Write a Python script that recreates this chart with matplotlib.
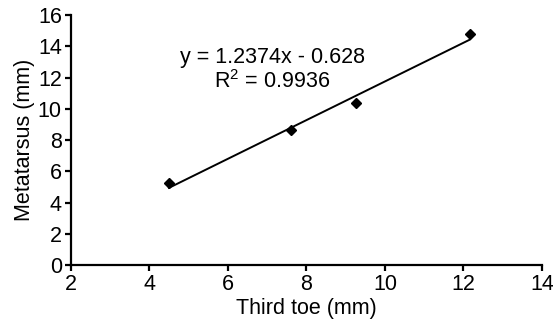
import matplotlib
matplotlib.use("Agg")
import matplotlib.pyplot as plt
import numpy as np

plt.rcParams['font.family'] = ['Liberation Sans', 'DejaVu Sans']
plt.rcParams['mathtext.fontset'] = 'custom'
plt.rcParams['mathtext.rm'] = 'Liberation Sans'
plt.rcParams['mathtext.it'] = 'Liberation Sans'

third_toe = [4.5, 7.62, 9.26, 12.16]
metatarsus = [5.25, 8.64, 10.4, 14.78]
slope = 1.2374
intercept = -0.628
x_ticks = [2, 4, 6, 8, 10, 12, 14]
y_ticks = [0, 2, 4, 6, 8, 10, 12, 14, 16]

FS = 15.5

fig = plt.figure(figsize=(5.53, 3.33), dpi=100)
ax = fig.add_axes([0.128, 0.204, 0.852, 0.751])

xs = np.array([min(third_toe), max(third_toe)])
ax.plot(xs, slope * xs + intercept, color='black', lw=1.4)
ax.plot(third_toe, metatarsus, linestyle='none', marker='D', ms=5.5,
        color='black', mec='black')

ax.set_xlim(2, 14)
ax.set_ylim(0, 16)
ax.set_xticks(x_ticks)
ax.set_yticks(y_ticks)
for s in ['top', 'right']:
    ax.spines[s].set_visible(False)
for s in ['left', 'bottom']:
    ax.spines[s].set_linewidth(1.6)
ax.tick_params(direction='out', length=4.5, width=1.6, labelsize=FS, pad=2)
ax.set_xlabel('Third toe (mm)', fontsize=FS, labelpad=2)
ax.set_ylabel('Metatarsus (mm)', fontsize=FS, labelpad=2)

ax.text(7.13, 12.91, 'y = 1.2374x - 0.628', fontsize=FS, ha='center', va='baseline')
ax.text(7.13, 11.33, r'R$^2$ = 0.9936', fontsize=FS, ha='center', va='baseline')

fig.savefig('out.png', dpi=100)
